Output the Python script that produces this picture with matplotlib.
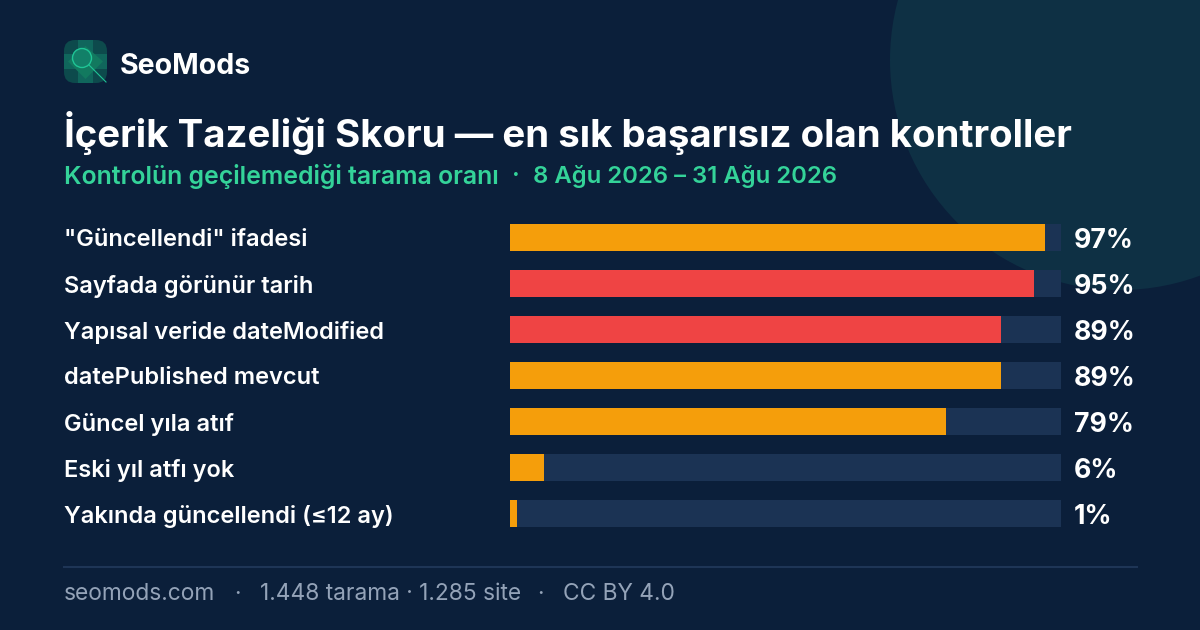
import matplotlib
matplotlib.use('Agg')
from matplotlib import pyplot as plt
from matplotlib.patches import Circle, FancyBboxPatch, Polygon, Rectangle

labels = ['"Güncellendi" ifadesi', 'Sayfada görünür tarih', 'Yapısal veride dateModified',
          'datePublished mevcut', 'Güncel yıla atıf', 'Eski yıl atfı yok', 'Yakında güncellendi (≤12 ay)']
values = [97.1, 95.1, 89.1, 89.1, 79.1, 6.2, 1.3]
value_labels = ['97%', '95%', '89%', '89%', '79%', '6%', '1%']
colors = ['#f59e0b', '#ef4444', '#ef4444', '#f59e0b', '#f59e0b', '#f59e0b', '#f59e0b']

title = 'İçerik Tazeliği Skoru — en sık başarısız olan kontroller'
subtitle = ['Kontrolün geçilemediği tarama oranı', '·', '8 Ağu 2026 – 31 Ağu 2026']
subtitle_x = [64, 512, 533]
subtitle_size = [17.9, 17.5, 17.2]
footer = ['seomods.com', '·', '1.448 tarama · 1.285 site', '·', 'CC BY 4.0']
footer_x = [64, 234, 260, 537, 563]

plt.rcParams['font.family'] = ['Inter', 'DejaVu Sans']

fig = plt.figure(figsize=(12, 6.3), dpi=100, facecolor='#0b1f3a')

# background layer in pixel coordinates
bg = fig.add_axes([0, 0, 1, 1])
bg.set_xlim(0, 1200)
bg.set_ylim(630, 0)
bg.axis('off')
bg.add_patch(Circle((1120, 60), 230, color='#0e3044', lw=0))

# logo
logo = FancyBboxPatch((64, 40), 43, 43, boxstyle='round,pad=0,rounding_size=11', fc='#0d4a4c', ec='none')
bg.add_patch(logo)
shapes = [Rectangle((78, 40), 15, 43, fc='#10665c', ec='none'),
          Rectangle((64, 54), 43, 15, fc='#10665c', ec='none'),
          Polygon([(85.5, 46), (103, 61.5), (85.5, 79), (68, 61.5)], fc='#12795f', ec='none')]
for p in shapes:
    bg.add_patch(p)
    p.set_clip_path(logo)
bg.add_patch(Circle((82, 58), 9.5, fc='#128068', ec='#1fc596', lw=1))
bg.plot([89, 106], [65, 82], color='#1fc596', lw=0.8)
bg.text(120, 64, 'SeoMods', color='white', fontsize=20.5, fontweight='bold', va='center_baseline')

bg.text(64, 129, title, color='white', fontsize=27.7, fontweight='bold', va='center_baseline')
for t, x, s in zip(subtitle, subtitle_x, subtitle_size):
    bg.text(x, 174, t, color='#34d399', fontsize=s, fontweight='semibold', va='center_baseline')

# footer
bg.plot([64, 1137], [567, 567], color='#1e3556', lw=1.5)
for t, x in zip(footer, footer_x):
    bg.text(x, 592, t, color='#94a3b8', fontsize=16.4, va='center_baseline')

# bars
ax = fig.add_axes([510 / 1200, 1 - 527 / 630, 551 / 1200, 303 / 630])
ax.set_xlim(0, 100)
ax.set_ylim(len(values) - 1 + 27 / 92, -27 / 92)
ax.axis('off')
ax.patch.set_alpha(0)
y = list(range(len(values)))
ax.barh(y, [100] * len(values), height=27 / 46, color='#1b3354', lw=0)
ax.barh(y, values, height=27 / 46, color=colors, lw=0)
for i in y:
    ax.annotate(labels[i], (0, i), xytext=(64 - 510, 0), textcoords='offset pixels', color='white',
                fontsize=17, fontweight='semibold', va='center_baseline')
    ax.annotate(value_labels[i], (100, i), xytext=(13, 0), textcoords='offset pixels', color='white',
                fontsize=19.2, fontweight='bold', va='center_baseline')

fig.savefig('out.png', dpi=100, facecolor=fig.get_facecolor())
